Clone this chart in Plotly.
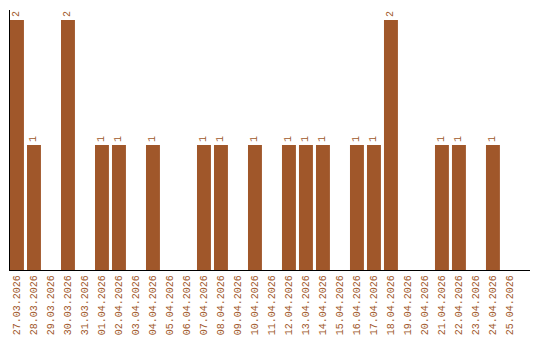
import plotly.graph_objects as go

dates = ["27.03.2026","28.03.2026","29.03.2026","30.03.2026","31.03.2026",
         "01.04.2026","02.04.2026","03.04.2026","04.04.2026","05.04.2026",
         "06.04.2026","07.04.2026","08.04.2026","09.04.2026","10.04.2026",
         "11.04.2026","12.04.2026","13.04.2026","14.04.2026","15.04.2026",
         "16.04.2026","17.04.2026","18.04.2026","19.04.2026","20.04.2026",
         "21.04.2026","22.04.2026","23.04.2026","24.04.2026","25.04.2026"]
counts = [2,1,0,2,0, 1,1,0,1,0, 0,1,1,0,1, 0,1,1,1,0, 1,1,2,0,0, 1,1,0,1,0]

color = "#a0572a"
labels = [str(v) if v else "" for v in counts]
xs = list(range(len(dates)))

fig = go.Figure(go.Bar(
    x=xs, y=counts, marker=dict(color=color, line=dict(width=0)),
    text=labels, textposition="outside", textangle=-90,
    textfont=dict(family="Liberation Mono", size=10, color=color),
    cliponaxis=False, width=0.82,
))
fig.update_layout(
    width=540, height=340, margin=dict(l=10, r=10, t=10, b=70),
    paper_bgcolor="white", plot_bgcolor="white", showlegend=False,
    xaxis=dict(range=[-0.41, 30.18], tickmode="array", tickvals=xs, ticktext=dates,
               tickangle=-90, tickfont=dict(family="Liberation Mono", size=10, color=color),
               showgrid=False, zeroline=False, showline=True, linecolor="black", linewidth=1.3,
               ticks="", layer="below traces", automargin=False, ticklabelstandoff=0),
    yaxis=dict(range=[0, 2.08], showticklabels=False, showgrid=False, zeroline=False,
               showline=True, linecolor="black", linewidth=1.3, ticks="", layer="below traces",
               automargin=False),
    uniformtext=dict(minsize=10, mode="show"),
)
fig.write_html("out.html")
